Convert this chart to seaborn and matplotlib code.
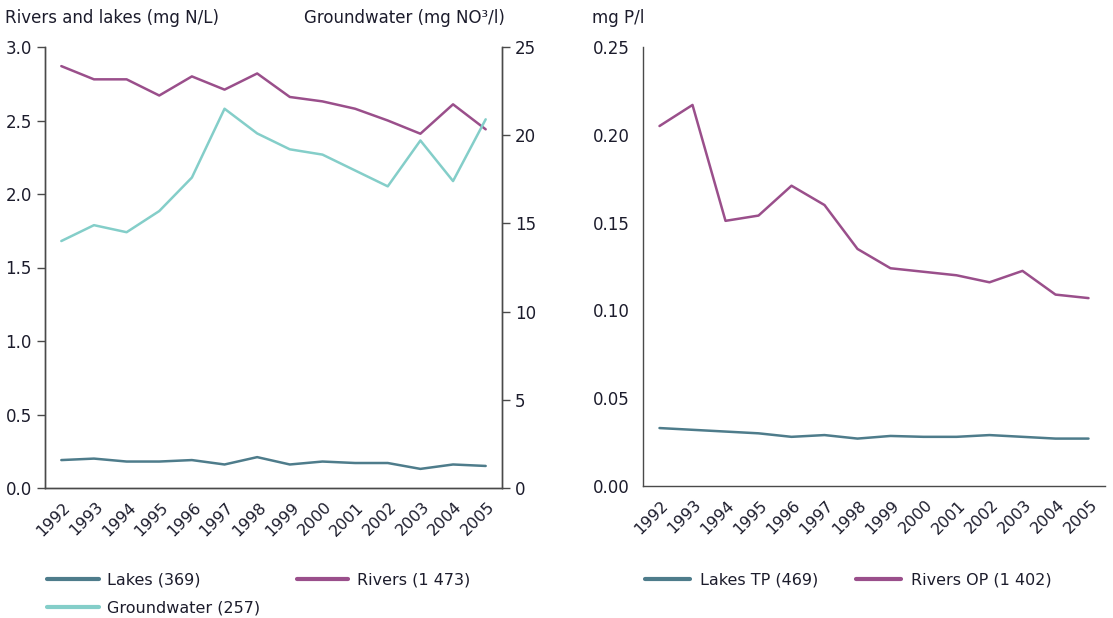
import numpy as np
import pandas as pd
import matplotlib
matplotlib.use("Agg")
import matplotlib.pyplot as plt
import matplotlib.transforms as mtransforms
from matplotlib.lines import Line2D
import seaborn as sns

# Data
years = list(range(1992, 2006))
rivers_n = [2.87, 2.78, 2.78, 2.67, 2.80, 2.71, 2.82, 2.66, 2.63, 2.58, 2.50, 2.41, 2.61, 2.44]
lakes_n = [0.19, 0.20, 0.18, 0.18, 0.19, 0.16, 0.21, 0.16, 0.18, 0.17, 0.17, 0.13, 0.16, 0.15]
groundwater_no3 = [14.0, 14.9, 14.5, 15.7, 17.6, 21.5, 20.1, 19.2, 18.9, 18.0, 17.1, 19.7, 17.4, 20.9]
rivers_op = [0.205, 0.217, 0.151, 0.154, 0.171, 0.160, 0.135, 0.124, 0.122, 0.120, 0.116, 0.1225, 0.109, 0.107]
lakes_tp = [0.033, 0.032, 0.031, 0.030, 0.028, 0.029, 0.027, 0.0285, 0.028, 0.028, 0.029, 0.028, 0.027, 0.027]

c_lakes = "#4e7c8b"
c_rivers = "#9a4f8b"
c_ground = "#84cec9"
txt = "#1c1c2c"
spine = "#4a4a4a"

sns.set_style("white")
plt.rcParams["font.family"] = ["DejaVu Sans"]
plt.rcParams["font.size"] = 11

df = pd.DataFrame({"year": years, "rivers": rivers_n, "lakes": lakes_n,
                   "ground": groundwater_no3, "rivers_op": rivers_op, "lakes_tp": lakes_tp})

fig = plt.figure(figsize=(11.13, 6.18), dpi=100)
ax1 = fig.add_axes([45 / 1113, 1 - 488 / 618, 457 / 1113, 441 / 618])
ax2 = ax1.twinx()
ax3 = fig.add_axes([643 / 1113, 1 - 486 / 618, 462 / 1113, 439 / 618])

lw = 1.8
sns.lineplot(data=df, x="year", y="lakes", ax=ax1, color=c_lakes, lw=lw)
sns.lineplot(data=df, x="year", y="rivers", ax=ax1, color=c_rivers, lw=lw)
sns.lineplot(data=df, x="year", y="ground", ax=ax2, color=c_ground, lw=lw)
sns.lineplot(data=df, x="year", y="lakes_tp", ax=ax3, color=c_lakes, lw=lw)
sns.lineplot(data=df, x="year", y="rivers_op", ax=ax3, color=c_rivers, lw=lw)

ax1.set_ylim(0, 3.0)
ax1.set_yticks(np.arange(0, 3.01, 0.5))
ax1.set_yticklabels([f"{v:.1f}" for v in np.arange(0, 3.01, 0.5)])
ax2.set_ylim(0, 25)
ax2.set_yticks(range(0, 26, 5))
ax3.set_ylim(0, 0.25)
ax3.set_yticks(np.arange(0, 0.251, 0.05))
ax3.set_yticklabels([f"{v:.2f}" for v in np.arange(0, 0.251, 0.05)])

offset = mtransforms.ScaledTranslation(12 / 100, -3 / 100, fig.dpi_scale_trans)
for ax in (ax1, ax2, ax3):
    ax.set_xlim(1991.5, 2005.5)
    ax.set_xlabel("")
    ax.set_ylabel("")
    ax.set_xticks(np.arange(1991.5, 2006, 1))
    ax.set_xticklabels([])
    ax.set_xticks(years, minor=True)
    ax.set_xticklabels([str(y) for y in years], minor=True, rotation=45, ha="right")
    ax.tick_params(axis="x", which="major", length=6, width=1, color=spine, direction="out")
    ax.tick_params(axis="x", which="minor", length=0, pad=6, labelcolor=txt, labelsize=11.5)
    ax.tick_params(axis="y", length=6, width=1, color=spine, labelcolor=txt, labelsize=12)
    for lab in ax.get_xticklabels(minor=True):
        lab.set_transform(lab.get_transform() + offset)
    for s in ax.spines.values():
        s.set_color(spine)
        s.set_linewidth(1)
    ax.spines["top"].set_visible(False)

ax2.xaxis.set_visible(False)
ax1.spines["right"].set_visible(True)
ax3.spines["right"].set_visible(False)

fig.text(5 / 1113, 1 - 18 / 618, "Rivers and lakes (mg N/L)", fontsize=12, color=txt, va="center")
fig.text(505 / 1113, 1 - 18 / 618, "Groundwater (mg NO\u00b3/l)", fontsize=12, color=txt,
         va="center", ha="right")
fig.text(592 / 1113, 1 - 18 / 618, "mg P/l", fontsize=12, color=txt, va="center")

h_lakes = Line2D([], [], color=c_lakes, lw=3)
h_rivers = Line2D([], [], color=c_rivers, lw=3)
h_ground = Line2D([], [], color=c_ground, lw=3)

fig.legend([h_lakes, h_ground, h_rivers], ["Lakes (369)", "Groundwater (257)", "Rivers (1 473)"],
           ncol=2, loc="upper left", bbox_to_anchor=(41 / 1113, 1 - 566 / 618), frameon=False,
           handlelength=3.2, handletextpad=0.55, columnspacing=2.3, labelspacing=0.8,
           fontsize=11.5, labelcolor=txt, borderaxespad=0)
fig.legend([h_lakes, h_rivers], ["Lakes TP (469)", "Rivers OP (1 402)"],
           ncol=2, loc="upper left", bbox_to_anchor=(639 / 1113, 1 - 566 / 618), frameon=False,
           handlelength=2.8, handletextpad=0.6, columnspacing=2.4,
           fontsize=11.5, labelcolor=txt, borderaxespad=0)

fig.savefig("out.png", dpi=100)
